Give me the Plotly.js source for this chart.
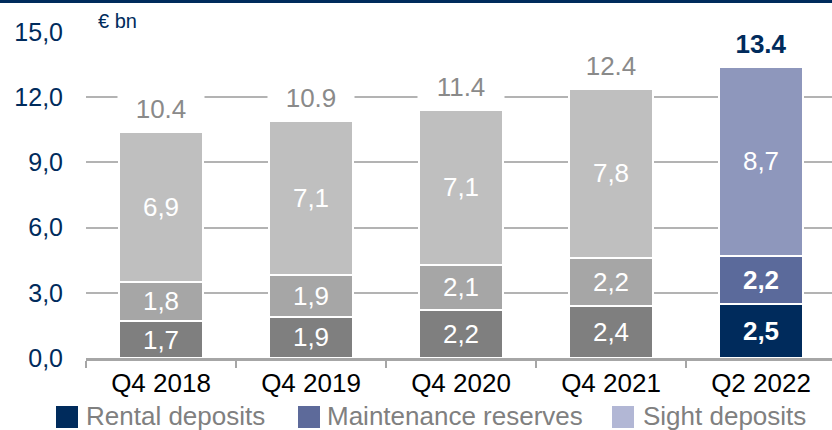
<!DOCTYPE html>
<html>
<head>
<meta charset="utf-8">
<script src="https://cdn.plot.ly/plotly-3.0.1.min.js"></script>
<style>
  html, body { margin: 0; padding: 0; background: #fff; }
  #chart { width: 832px; height: 430px; }
</style>
</head>
<body>
<div id="chart"></div>
<script>
// ---- data ----
const categories = ['Q4 2018', 'Q4 2019', 'Q4 2020', 'Q4 2021', 'Q2 2022'];
const rentalDeposits = [1.7, 1.9, 2.2, 2.4, 2.5];
const maintenanceReserves = [1.8, 1.9, 2.1, 2.2, 2.2];
const sightDeposits = [6.9, 7.1, 7.1, 7.8, 8.7];
const totals = [10.4, 10.9, 11.4, 12.4, 13.4];
const yTickVals = [0, 3, 6, 9, 12, 15];
const yTickText = ['0,0', '3,0', '6,0', '9,0', '12,0', '15,0'];
const seriesNames = ['Rental deposits', 'Maintenance reserves', 'Sight deposits'];
const unitLabel = '€ bn';

// ---- styles ----
const FONT = '"Liberation Sans", Arial, sans-serif';
const NAVY = '#002b5c';
const pastColors = ['#7f7f7f', '#a6a6a6', '#bfbfbf'];
const currentColors = ['#002b5c', '#5b6a9b', '#8e97bc'];
const legendColors = ['#002b5c', '#5d6a9a', '#b2b7d5'];
const boldInside = [true, true, false];   // which series' labels are bold on the latest bar
const lastIdx = categories.length - 1;

const W = 832, H = 430;
const M = { l: 86, r: 0, t: 32, b: 72 };
const plotW = W - M.l - M.r, plotH = H - M.t - M.b;
const px2x = p => (p - M.l) / plotW;
const px2y = p => (H - M.b - p) / plotH;

function fmt(v) { return v.toFixed(1).replace('.', ','); }

const seriesValues = [rentalDeposits, maintenanceReserves, sightDeposits];
const traces = seriesValues.map((vals, s) => ({
  type: 'bar',
  name: seriesNames[s],
  x: categories,
  y: vals,
  showlegend: false,
  marker: {
    color: vals.map((_, i) => i === lastIdx ? currentColors[s] : pastColors[s]),
    line: { color: '#ffffff', width: 2 }
  },
  text: vals.map((v, i) => (i === lastIdx && boldInside[s]) ? '<b>' + fmt(v) + '</b>' : fmt(v)),
  textposition: 'inside',
  insidetextanchor: 'middle',
  textangle: 0,
  textfont: { family: FONT, size: 26, color: '#ffffff' },
  constraintext: 'none',
  hoverinfo: 'skip'
}));

const annotations = totals.map((t, i) => ({
  x: categories[i], y: t, xref: 'x', yref: 'y',
  yanchor: 'bottom', yshift: 6,
  text: i === lastIdx ? '<b>' + t.toFixed(1) + '</b>' : t.toFixed(1),
  showarrow: false,
  bgcolor: '#ffffff',
  width: 84,
  font: { family: FONT, size: 26, color: i === lastIdx ? NAVY : '#8a8a8a' }
}));

annotations.push({
  xref: 'paper', yref: 'paper', x: px2x(96), y: px2y(21),
  xanchor: 'left', yanchor: 'middle',
  text: unitLabel, showarrow: false,
  font: { family: FONT, size: 20, color: NAVY }
});

// legend (manual, to get large square swatches)
const legendSwatchX = [56, 298, 612];
const legendTextX = [84, 325, 641];
const shapes = [];
seriesNames.forEach((n, s) => {
  shapes.push({
    type: 'rect', xref: 'paper', yref: 'paper', layer: 'above',
    x0: px2x(legendSwatchX[s]), x1: px2x(legendSwatchX[s] + 22),
    y0: px2y(428), y1: px2y(406),
    fillcolor: legendColors[s], line: { width: 0 }
  });
  annotations.push({
    xref: 'paper', yref: 'paper', x: px2x(legendTextX[s]), y: px2y(416),
    xanchor: 'left', yanchor: 'middle',
    text: n, showarrow: false,
    font: { family: FONT, size: 26, color: '#808080' }
  });
});

// top navy band
shapes.push({
  type: 'rect', xref: 'paper', yref: 'paper', layer: 'above',
  x0: px2x(0), x1: px2x(W), y0: px2y(3), y1: px2y(0),
  fillcolor: NAVY, line: { width: 0 }
});

const layout = {
  width: W, height: H,
  margin: M,
  paper_bgcolor: '#ffffff',
  plot_bgcolor: '#ffffff',
  barmode: 'stack',
  bargap: 0.44,
  showlegend: false,
  font: { family: FONT },
  xaxis: {
    type: 'category',
    range: [-0.5, -0.5 + plotW / 150],
    showgrid: false,
    showline: true, linecolor: '#a6a6a6', linewidth: 3,
    ticks: 'outside', tickson: 'boundaries', ticklen: 7, tickwidth: 2, tickcolor: '#a6a6a6',
    tickfont: { family: FONT, size: 26, color: '#000000' },
    fixedrange: true
  },
  yaxis: {
    range: [0, 15],
    tickvals: yTickVals, ticktext: yTickText,
    tickfont: { family: FONT, size: 25, color: NAVY },
    showgrid: true, gridcolor: '#b3b3b3', gridwidth: 2,
    zeroline: false, showline: false,
    ticks: '', ticklabelstandoff: 22,
    fixedrange: true
  },
  annotations: annotations,
  shapes: shapes
};

Plotly.newPlot('chart', traces, layout, { displayModeBar: false, staticPlot: true });
</script>
</body>
</html>
